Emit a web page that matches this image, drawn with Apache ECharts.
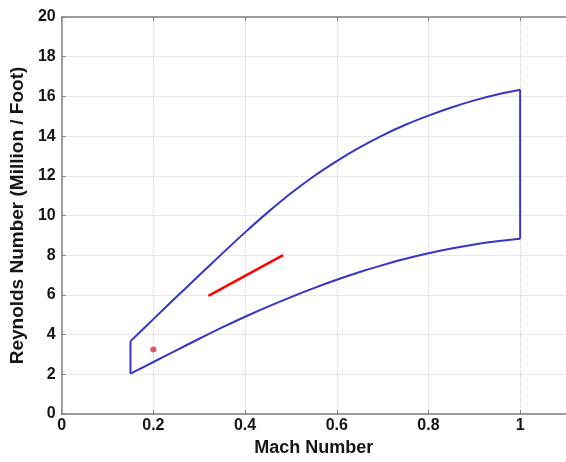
<!DOCTYPE html>
<html>
<head>
<meta charset="utf-8">
<script src="https://cdn.jsdelivr.net/npm/echarts@6/dist/echarts.min.js"></script>
<style>
  html, body { margin: 0; padding: 0; background: #fff; }
  #chart { width: 566px; height: 462px; }
</style>
</head>
<body>
<div id="chart"></div>
<script>
// Operating envelope: Mach number vs Reynolds number (million per foot)
const mach = [0.15, 0.2, 0.25, 0.3, 0.35, 0.4, 0.45, 0.5, 0.55, 0.6, 0.65, 0.7, 0.75, 0.8, 0.85, 0.9, 0.95, 1.0];
const upperRe = [3.67, 4.78, 5.89, 6.99, 8.08, 9.15, 10.17, 11.12, 11.98, 12.74, 13.43, 14.04, 14.57, 15.03, 15.44, 15.8, 16.1, 16.33];
const lowerRe = [2.03, 2.62, 3.21, 3.79, 4.36, 4.9, 5.41, 5.89, 6.34, 6.76, 7.15, 7.5, 7.82, 8.1, 8.34, 8.54, 8.7, 8.83];

// Test run path and single test point
const runMach = [0.32, 0.483];
const runRe = [5.95, 8.0];
const pointMach = [0.2];
const pointRe = [3.25];

const pairs = (xs, ys) => xs.map((x, i) => [x, ys[i]]);

const envelopeColor = '#3535c8';
const axisColor = '#808080';
const labelFont = { color: '#151515', fontFamily: 'Liberation Sans, Arial, sans-serif', fontWeight: 'bold' };

const chart = echarts.init(document.getElementById('chart'), null, { renderer: 'canvas' });

chart.setOption({
  animation: false,
  backgroundColor: '#ffffff',
  grid: { left: 61, right: -1, top: 17, bottom: 45 },
  xAxis: [
    {
      type: 'value', min: 0, max: 1.1, interval: 0.2, position: 'bottom',
      name: 'Mach Number', nameLocation: 'middle', nameGap: 25,
      nameTextStyle: Object.assign({ fontSize: 18 }, labelFont),
      axisLine: { show: true, lineStyle: { color: axisColor, width: 1.5 } },
      axisTick: { show: true, inside: true, length: 4, lineStyle: { color: axisColor } },
      axisLabel: Object.assign({ fontSize: 16, margin: 4, showMaxLabel: false,
        formatter: v => (Math.abs(v - 1.1) < 1e-9 ? '' : String(Math.round(v * 10) / 10)) }, labelFont),
      splitLine: { show: true, lineStyle: { color: '#d0d0d0', type: 'dotted', width: 1 } }
    },
    {
      type: 'value', min: 0, max: 1.1, interval: 0.2, position: 'top',
      axisLine: { show: true, lineStyle: { color: axisColor, width: 1.5 } },
      axisTick: { show: true, inside: true, length: 4, lineStyle: { color: axisColor } },
      axisLabel: { show: false },
      splitLine: { show: false }
    }
  ],
  yAxis: {
    type: 'value', min: 0, max: 20, interval: 2,
    name: 'Reynolds Number (Million / Foot)', nameLocation: 'middle', nameGap: 33,
    nameTextStyle: Object.assign({ fontSize: 19 }, labelFont),
    axisLine: { show: true, lineStyle: { color: axisColor, width: 1.5 } },
    axisTick: { show: true, inside: true, length: 4, lineStyle: { color: axisColor } },
    axisLabel: Object.assign({ fontSize: 16, margin: 6 }, labelFont),
    splitLine: { show: true, lineStyle: { color: '#d0d0d0', type: 'dotted', width: 1 } }
  },
  series: [
    {
      name: 'upper', type: 'line', data: pairs(mach, upperRe), smooth: 0.3,
      symbol: 'none', lineStyle: { color: envelopeColor, width: 2 }
    },
    {
      name: 'lower', type: 'line', data: pairs(mach, lowerRe), smooth: 0.3,
      symbol: 'none', lineStyle: { color: envelopeColor, width: 2 }
    },
    {
      name: 'left edge', type: 'line',
      data: [[mach[0], lowerRe[0]], [mach[0], upperRe[0]]],
      symbol: 'none', lineStyle: { color: envelopeColor, width: 2 }
    },
    {
      name: 'right edge', type: 'line',
      data: [[mach[mach.length - 1], lowerRe[lowerRe.length - 1]], [mach[mach.length - 1], upperRe[upperRe.length - 1]]],
      symbol: 'none', lineStyle: { color: envelopeColor, width: 2 }
    },
    {
      name: 'run', type: 'line', data: pairs(runMach, runRe),
      symbol: 'none', lineStyle: { color: '#ff0000', width: 2.5 }
    },
    {
      name: 'point', type: 'scatter', data: pairs(pointMach, pointRe),
      symbol: 'circle', symbolSize: 6, itemStyle: { color: '#e0343c', opacity: 0.85 }
    }
  ]
});
</script>
</body>
</html>
